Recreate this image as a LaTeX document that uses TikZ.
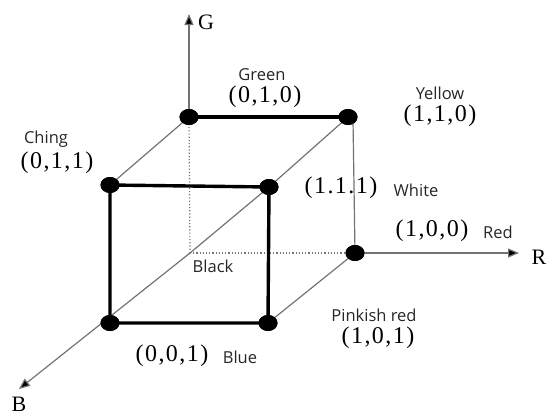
\documentclass[tikz,border=0pt]{standalone}
\usepackage{fontspec}
\setmainfont{Liberation Serif}
\newfontfamily\lblfont{Open Sans}
\newfontfamily\crdfont[LetterSpace=6]{Liberation Serif}
\usetikzlibrary{arrows.meta,shapes.geometric}
\begin{document}
\begin{tikzpicture}[x=1pt,y=-1pt,
  vtx/.style={ellipse,fill=black,inner sep=0pt,minimum width=19pt,minimum height=16pt},
  thinline/.style={draw=black!55,line width=1.2pt},
  thickline/.style={draw=black,line width=3.4pt},
  dotline/.style={draw=black!55,line width=1.2pt,dotted},
  axis/.style={thinline,-{Triangle[length=11pt,width=9pt,fill=black]}},
  crd/.style={font=\crdfont\fontsize{24}{26}\selectfont,inner sep=0pt},
  lbl/.style={font=\lblfont\fontsize{16.5}{18}\selectfont,text=black!85,inner sep=0pt},
  axlbl/.style={font=\fontsize{22}{24}\selectfont,inner sep=0pt}]
\useasboundingbox (0,0) rectangle (554,416);
% vertices
\coordinate (O) at (190,253);
\coordinate (Gt) at (189,14);
\coordinate (Rt) at (519,253);
\coordinate (Bt) at (19,389);
\coordinate (Yd) at (353,120);
\node[vtx] (G) at (189,117) {};
\node[vtx] (Y) at (348,117) {};
\node[vtx] (C) at (110,185) {};
\node[vtx] (W) at (269,187) {};
\node[vtx] (R) at (355,253) {};
\node[vtx] (Bl) at (110,323) {};
\node[vtx] (P) at (268,323) {};
% hidden edges
\draw[dotline] (O) -- (G.center);
\draw[dotline] (O) -- (R.center);
% thin edges and axes
\draw[thinline] (O) -- (W.center);
\draw[thinline] (G.center) -- (C.center);
\draw[thinline] (Y.center) -- (W.center);
\draw[thinline] (R.center) -- (P.center);
\draw[thinline] (Yd) -- (R.center);
\draw[axis] (G.center) -- (Gt);
\draw[axis] (R.center) -- (Rt);
\draw[axis] (O) -- (Bt);
% thick edges
\draw[thickline] (G.center) -- (Y.center);
\draw[thickline] (C.center) -- (W.center) -- (P.center) -- (Bl.center) -- cycle;
% vertices on top
\foreach \v in {G,Y,C,W,R,Bl,P} \fill (\v) ellipse (9.5pt and 8pt);
% axis labels
\node[axlbl] (lg) at (206,22) {G};
\node[axlbl] (lr) at (539,257) {R};
\node[axlbl] (lb) at (19,404) {B};
% labels
\node[lbl] (tgreen) at (262,75) {Green};
\node[crd] (cgreen) at (265,97) {(0,1,0)};
\node[lbl] (tyellow) at (440,93) {Yellow};
\node[crd] (cyellow) at (440,116) {(1,1,0)};
\node[lbl] (tching) at (46,139) {Ching};
\node[crd] (cching) at (57,163) {(0,1,1)};
\node[crd] (cwhite) at (341,188) {(1.1.1)};
\node[lbl] (twhite) at (416,190) {White};
\node[crd] (cred) at (432,231) {(1,0,0)};
\node[lbl] (tred) at (498,232) {Red};
\node[lbl] (tblack) at (213,266) {Black};
\node[lbl] (tpink) at (374,315) {Pinkish red};
\node[crd] (cpink) at (378,338) {(1,0,1)};
\node[crd] (cblue) at (172,356) {(0,0,1)};
\node[lbl] (tblue) at (240,357) {Blue};
\end{tikzpicture}
\end{document}
